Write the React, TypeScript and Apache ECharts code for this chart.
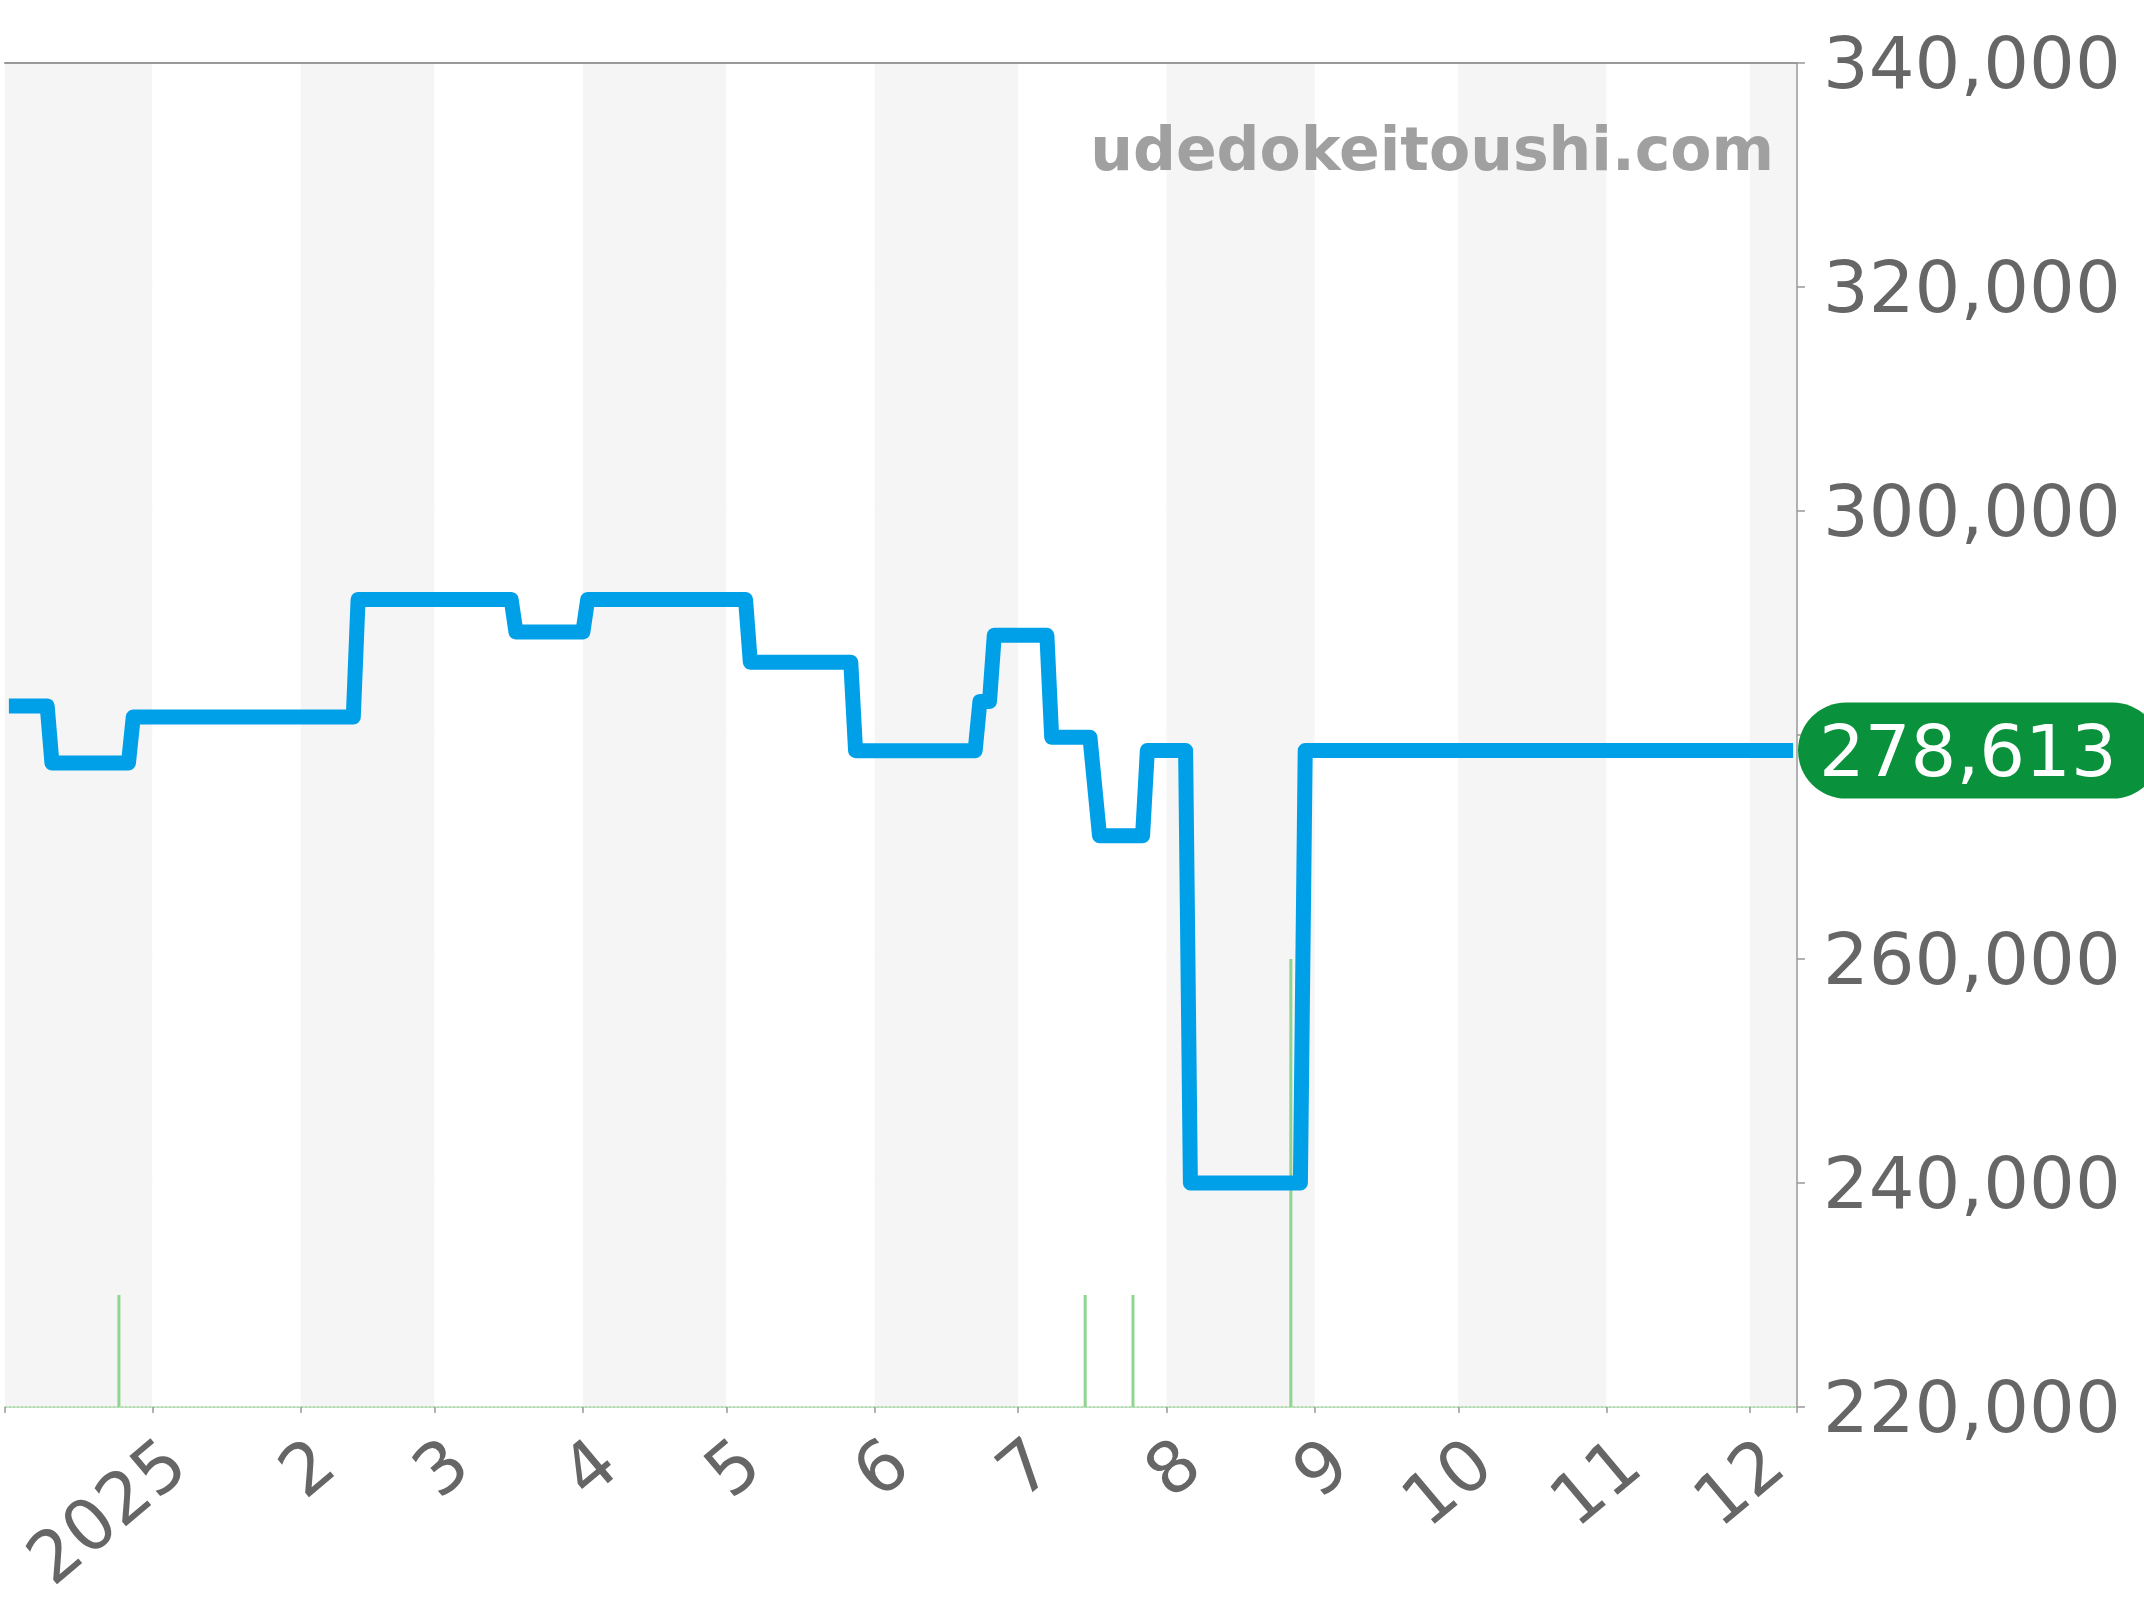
import React, { useEffect, useRef } from 'react';
import * as echarts from 'echarts';

// ---- data ----
const LINE_DATES: string[] = [
  '2024-12-02', '2024-12-10', '2024-12-11', '2024-12-27', '2024-12-28',
  '2025-02-12', '2025-02-13', '2025-03-17', '2025-03-18', '2025-04-01',
  '2025-04-02', '2025-05-05', '2025-05-06', '2025-05-27', '2025-05-28',
  '2025-06-22', '2025-06-23', '2025-06-25', '2025-06-26', '2025-07-07',
  '2025-07-08', '2025-07-16', '2025-07-18', '2025-07-27', '2025-07-28',
  '2025-08-05', '2025-08-06', '2025-08-29', '2025-08-30', '2025-12-10',
];
const LINE_VALUES: number[] = [
  282600, 282600, 277500, 277500, 281600,
  281600, 292100, 292100, 289200, 289200,
  292100, 292100, 286500, 286500, 278600,
  278600, 283000, 283000, 288900, 288900,
  279800, 279800, 271000, 271000, 278613,
  278613, 240000, 240000, 278613, 278613,
];
const BAR_DATES: string[] = ['2024-12-25', '2025-07-15', '2025-07-25', '2025-08-27'];
const BAR_VALUES: number[] = [1, 1, 1, 4];

const X_MIN = '2024-12-01 12';
const X_MAX = '2025-12-10 12';
const Y_MIN = 220000;
const Y_MAX = 340000;
const Y_INTERVAL = 20000;
const BAR_AXIS_MAX = 12;
const WATERMARK = 'udedokeitoushi.com';

const toTs = (s: string): number => {
  const [datePart, hourPart] = s.split(' ');
  const [y, m, d] = datePart.split('-').map(Number);
  return new Date(y, m - 1, d, hourPart ? Number(hourPart) : 0).getTime();
};

const FONT = 'DejaVu Sans';

export default function App() {
  const ref = useRef<HTMLDivElement>(null);

  useEffect(() => {
    if (!ref.current) return;
    const chart = echarts.init(ref.current, undefined, { renderer: 'svg' });
    const lineData = LINE_DATES.map((d, i) => [toTs(d), LINE_VALUES[i]]);
    const barData = BAR_DATES.map((d, i) => [toTs(d), BAR_VALUES[i]]);
    const lastValue = LINE_VALUES[LINE_VALUES.length - 1];
    const xMin = toTs(X_MIN);
    const xMax = toTs(X_MAX);
    const DAY = 86400000;

    const option: any = {
      animation: false,
      backgroundColor: '#ffffff',
      textStyle: { fontFamily: FONT },
      grid: {
        left: 5, right: 347, top: 63, bottom: 193,
        containLabel: false, outerBoundsMode: 'none',
      },
      xAxis: [
        {
          type: 'time',
          min: xMin,
          max: xMax,
          splitNumber: 12,
          minInterval: 28 * DAY,
          maxInterval: 30 * DAY,
          axisLine: { show: true, lineStyle: { color: '#9fd89f', width: 1.5, type: [2, 2] } },
          axisTick: { show: true, length: 6, lineStyle: { color: '#999999', width: 1.5 } },
          splitLine: { show: false },
          splitArea: { show: true, areaStyle: { color: ['#f5f5f5', '#ffffff'] } },
          axisLabel: {
            show: true,
            rotate: 40,
            margin: 18,
            verticalAlign: 'top',
            lineHeight: 72,
            fontSize: 71,
            fontFamily: FONT,
            color: '#666666',
            showMinLabel: true,
            showMaxLabel: true,
            formatter: (value: number) => {
              const d = new Date(value);
              if (d.getDate() !== 1 || d.getHours() !== 0) return '';
              return d.getMonth() === 0 ? String(d.getFullYear()) : String(d.getMonth() + 1);
            },
          },
        },
        {
          type: 'time',
          position: 'top',
          min: xMin,
          max: xMax,
          axisLine: { show: true, lineStyle: { color: '#999999', width: 2 } },
          axisTick: { show: false },
          axisLabel: { show: false },
          splitLine: { show: false },
        },
      ],
      yAxis: [
        {
          type: 'value',
          position: 'right',
          min: Y_MIN,
          max: Y_MAX,
          interval: Y_INTERVAL,
          axisLine: { show: true, lineStyle: { color: '#999999', width: 1.5 } },
          axisTick: { show: true, length: 8, lineStyle: { color: '#999999', width: 1.5 } },
          splitLine: { show: true, lineStyle: { color: '#e6e6e6', width: 1 } },
          axisLabel: {
            margin: 26,
            fontSize: 72,
            fontFamily: FONT,
            color: '#666666',
            formatter: (v: number) =>
              Math.abs(v - lastValue) < Y_INTERVAL / 2 ? '' : v.toLocaleString('en-US'),
          },
        },
        {
          type: 'value',
          min: 0,
          max: BAR_AXIS_MAX,
          show: false,
          splitLine: { show: false },
        },
      ],
      graphic: [
        {
          type: 'text',
          right: 2144 - 1774,
          top: 119,
          z: 10,
          style: {
            text: WATERMARK,
            fontFamily: FONT,
            fontWeight: 'bold',
            fontSize: 60,
            fill: '#a0a0a0',
          },
        },
      ],
      series: [
        {
          type: 'bar',
          xAxisIndex: 0,
          yAxisIndex: 1,
          data: barData,
          barWidth: 3,
          itemStyle: { color: '#8fd48f' },
          silent: true,
        },
        {
          type: 'line',
          xAxisIndex: 0,
          yAxisIndex: 0,
          data: lineData,
          showSymbol: false,
          symbol: 'none',
          lineStyle: { color: '#00a0e9', width: 15, join: 'round', cap: 'butt' },
          silent: true,
          z: 5,
          markLine: {
            silent: true,
            symbol: ['none', 'none'],
            lineStyle: { color: 'rgba(0,0,0,0)', width: 0, opacity: 1 },
            label: {
              show: true,
              opacity: 1,
              position: 'end',
              distance: 1,
              formatter: (p: any) => Number(p.value).toLocaleString('en-US'),
              color: '#ffffff',
              fontSize: 72,
              fontFamily: FONT,
              lineHeight: 72,
              backgroundColor: '#0a913c',
              borderRadius: 48,
              padding: [12, 44, 12, 21],
            },
            data: [{ yAxis: lastValue }],
          },
        },
      ],
    };

    chart.setOption(option);
    return () => chart.dispose();
  }, []);

  return (
    <div
      ref={ref}
      style={{ position: 'absolute', left: 0, top: 0, width: 2144, height: 1600 }}
    />
  );
}
